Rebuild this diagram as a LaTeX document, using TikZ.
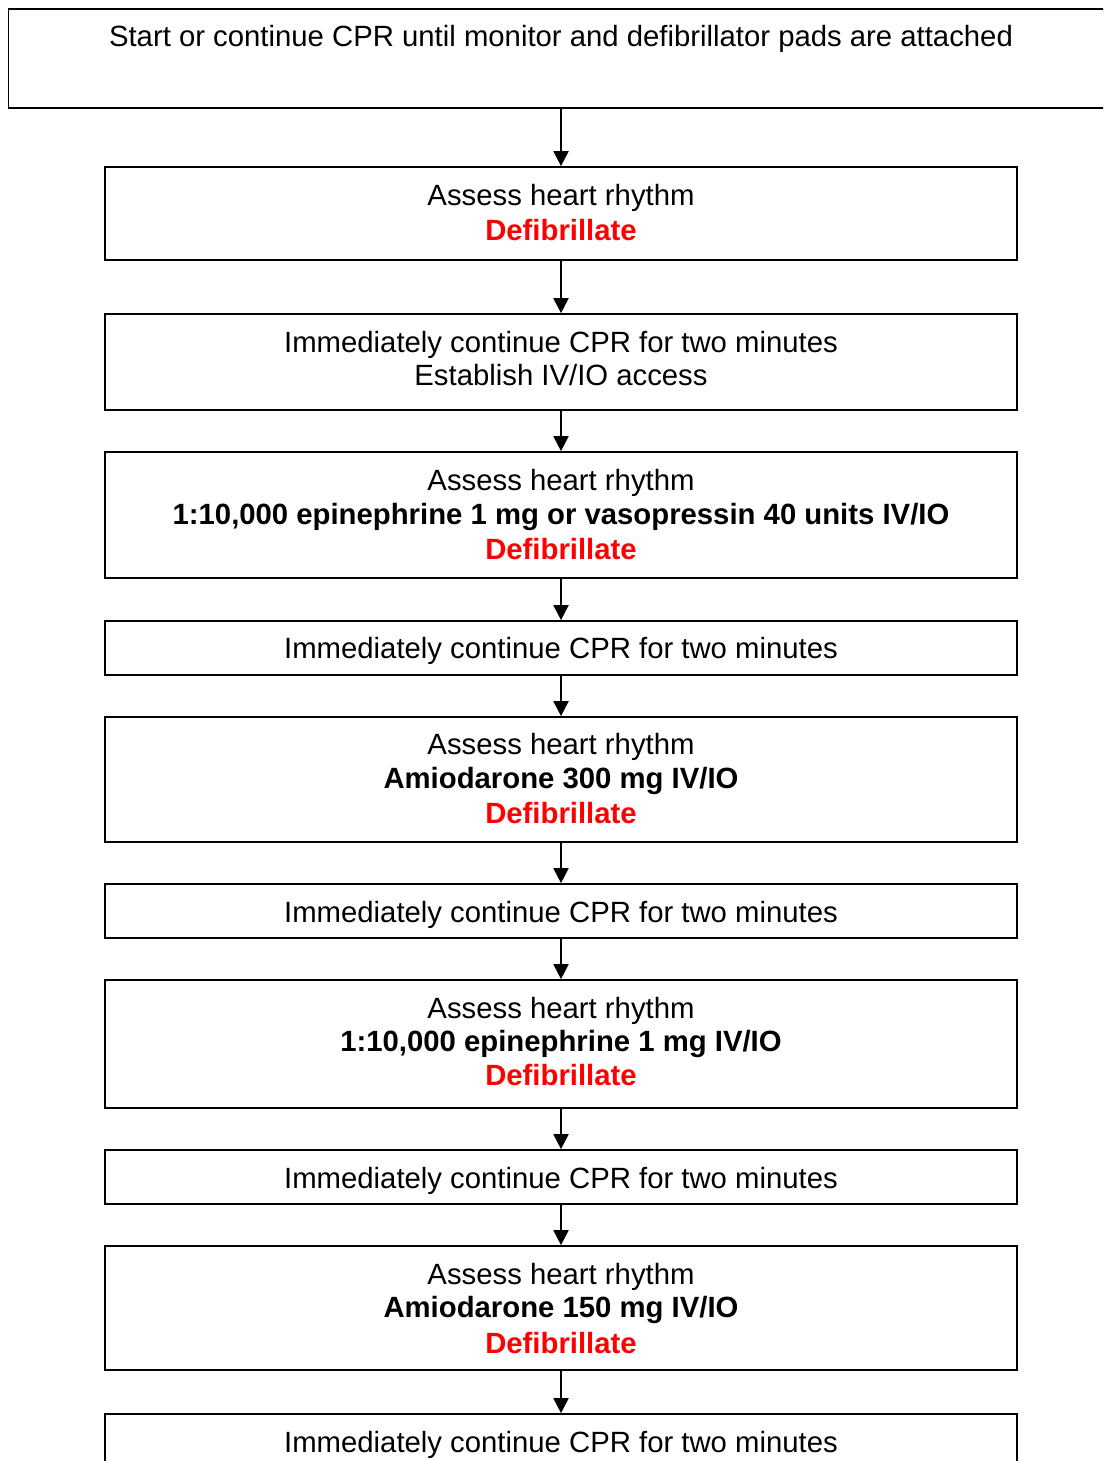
\documentclass[tikz,border=0pt]{standalone}
\usepackage{fontspec}
\setmainfont{Liberation Sans}
\usetikzlibrary{arrows.meta}
\definecolor{alertred}{RGB}{255,0,0}
\tikzset{
  stepbox/.style={draw=black, line width=1.7pt, minimum width=912pt, inner sep=0pt},
  txt/.style={anchor=base, inner sep=0pt, font=\fontsize{29.3}{34}\selectfont},
  bold/.style={txt, font=\fontsize{29.3}{34}\selectfont\bfseries},
  shock/.style={bold, text=alertred},
  flow/.style={line width=1.9pt, -{Triangle[width=15pt,length=15pt]}}
}
\begin{document}
\begin{tikzpicture}[x=1pt,y=-1pt]
\useasboundingbox (0,0) rectangle (1103,1461);
\clip (0,0) rectangle (1103,1461);
\fill[white] (0,0) rectangle (1103,1461);

% boxes (centre x = 561, width 912)
\node[draw=black, line width=1.7pt, inner sep=0pt, minimum width=1112pt, minimum height=99pt] (b0) at (564.5,58.5) {};
\node[stepbox, minimum height=93pt]  (b1)  at (561,213.5) {};
\node[stepbox, minimum height=96pt]  (b2)  at (561,362) {};
\node[stepbox, minimum height=126pt] (b3)  at (561,515) {};
\node[stepbox, minimum height=54pt]  (b4)  at (561,648) {};
\node[stepbox, minimum height=125pt] (b5)  at (561,779.5) {};
\node[stepbox, minimum height=54pt]  (b6)  at (561,911) {};
\node[stepbox, minimum height=128pt] (b7)  at (561,1044) {};
\node[stepbox, minimum height=54pt]  (b8)  at (561,1177) {};
\node[stepbox, minimum height=124pt] (b9)  at (561,1308) {};
\node[stepbox, minimum height=80pt]  (b10) at (561,1454) {};

% texts
\node[txt] (t0) at (561,47) {Start or continue CPR until monitor and defibrillator pads are attached};

\node[txt]   (t1a) at (561,205) {Assess heart rhythm};
\node[shock] (t1b) at (561,240) {Defibrillate};

\node[txt] (t2a) at (561,352) {Immediately continue CPR for two minutes};
\node[txt] (t2b) at (561,385) {Establish IV/IO access};

\node[txt]   (t3a) at (561,490) {Assess heart rhythm};
\node[bold]  (t3b) at (561,524) {1:10,000 epinephrine 1 mg or vasopressin 40 units IV/IO};
\node[shock] (t3c) at (561,559) {Defibrillate};

\node[txt] (t4) at (561,658) {Immediately continue CPR for two minutes};

\node[txt]   (t5a) at (561,754) {Assess heart rhythm};
\node[bold]  (t5b) at (561,788) {Amiodarone 300 mg IV/IO};
\node[shock] (t5c) at (561,823) {Defibrillate};

\node[txt] (t6) at (561,922) {Immediately continue CPR for two minutes};

\node[txt]   (t7a) at (561,1018) {Assess heart rhythm};
\node[bold]  (t7b) at (561,1051) {1:10,000 epinephrine 1 mg IV/IO};
\node[shock] (t7c) at (561,1085) {Defibrillate};

\node[txt] (t8) at (561,1188) {Immediately continue CPR for two minutes};

\node[txt]   (t9a) at (561,1284) {Assess heart rhythm};
\node[bold]  (t9b) at (561,1317) {Amiodarone 150 mg IV/IO};
\node[shock] (t9c) at (561,1353) {Defibrillate};

\node[txt] (t10) at (561,1452) {Immediately continue CPR for two minutes};

% connectors
\draw[flow] (b0.south -| b1.north) -- (b1.north);
\draw[flow] (b1.south) -- (b2.north);
\draw[flow] (b2.south) -- (b3.north);
\draw[flow] (b3.south) -- (b4.north);
\draw[flow] (b4.south) -- (b5.north);
\draw[flow] (b5.south) -- (b6.north);
\draw[flow] (b6.south) -- (b7.north);
\draw[flow] (b7.south) -- (b8.north);
\draw[flow] (b8.south) -- (b9.north);
\draw[flow] (b9.south) -- (b10.north);
\end{tikzpicture}
\end{document}
